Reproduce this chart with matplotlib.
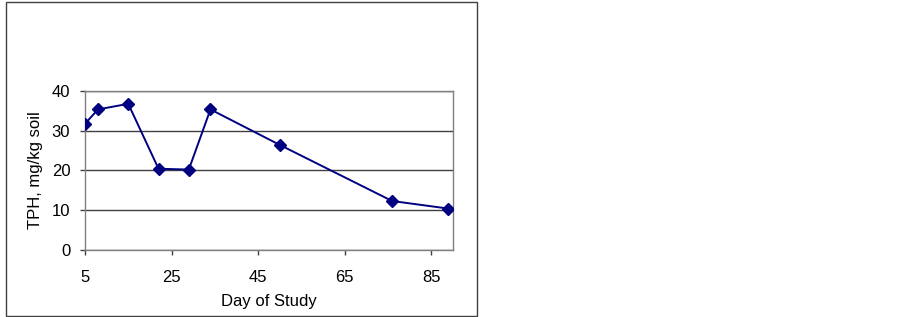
import matplotlib
matplotlib.use("Agg")
import matplotlib.pyplot as plt
from matplotlib.patches import Rectangle

days = [5, 8, 15, 22, 29, 34, 50, 76, 89]
tph = [31.7, 35.3, 36.7, 20.4, 20.2, 35.3, 26.4, 12.3, 10.4]
xticks = [5, 25, 45, 65, 85]
yticks = [0, 10, 20, 30, 40]

plt.rcParams['font.family'] = ['Liberation Sans', 'DejaVu Sans']

W, H = 903, 317
fig = plt.figure(figsize=(W / 100, H / 100), dpi=100)

# outer chart border
fig.patches.append(Rectangle((6.5 / W, 1.0 / H), (477.5 - 6.5) / W, (315.5 - 1.0) / H,
                             transform=fig.transFigure, fill=False,
                             edgecolor='#404040', linewidth=1.0))

ax = fig.add_axes([85 / W, (H - 250) / H, (452.7 - 85) / W, (250 - 90.7) / H])
ax.plot(days, tph, color='#000080', linewidth=1.4, marker='D', markersize=6,
        markerfacecolor='#000080', markeredgecolor='#000080', zorder=3)

ax.set_xlim(5, 90)
ax.set_ylim(0, 40)
ax.set_xticks(xticks)
ax.set_yticks(yticks)
ax.yaxis.grid(True, color='#404040', linewidth=1.0)
ax.set_axisbelow(True)
for s in ax.spines.values():
    s.set_color('#808080')
    s.set_linewidth(1.0)
ax.tick_params(axis='both', direction='out', length=3.6, width=1.0, color='#404040',
               labelsize=12, labelcolor='black')
ax.tick_params(axis='x', pad=11)
ax.tick_params(axis='y', pad=7)
ax.set_xlabel('Day of Study', fontsize=12, labelpad=6)
ax.set_ylabel('TPH, mg/kg soil', fontsize=12, labelpad=6)

fig.savefig('out.png', dpi=100)
